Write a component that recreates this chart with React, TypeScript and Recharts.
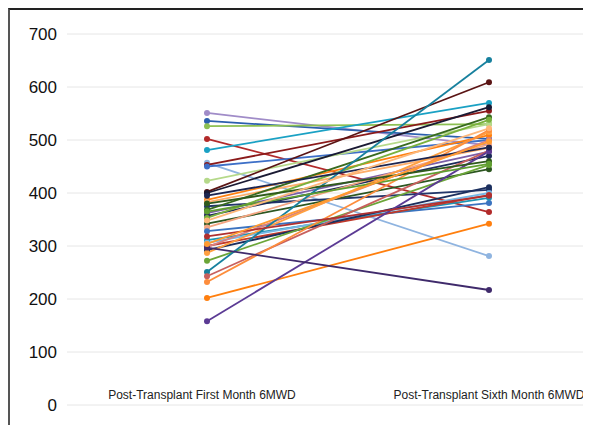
import { CartesianGrid, Line, LineChart, XAxis, YAxis } from "recharts";

const categories = [
  "Post-Transplant First Month 6MWD",
  "Post-Transplant Sixth Month 6MWD",
];

const firstMonth = [
  551, 536, 526, 502, 481, 457, 453, 450, 423, 402, 400, 387, 383, 375, 368,
  362, 357, 353, 342, 335, 328, 311, 306, 300, 298, 292, 287, 272, 251, 243,
  232, 202, 158, 297, 395, 380, 365, 318, 304, 348,
];

const sixthMonth = [
  490, 502, 530, 364, 570, 281, 555, 500, 530, 609, 562, 509, 485, 406, 543,
  478, 470, 538, 445, 492, 381, 391, 400, 396, 500, 411, 515, 453, 651, 480,
  519, 342, 479, 217, 486, 460, 455, 395, 497, 522,
];

const colors = [
  "#a08cc8", "#2b5fad", "#8dc052", "#b22a2a", "#1aa1c4", "#8fb4e0", "#8b1a1a",
  "#3d6fc7", "#b5d98a", "#5a1414", "#1a1a33", "#ff7f0e", "#fdae6b", "#23376b",
  "#386a1f", "#7b5ea7", "#1d2a5a", "#79b13d", "#2c5620", "#f4a582", "#3b73c0",
  "#1f95b3", "#76b7e5", "#c0392b", "#d98080", "#1b2f5e", "#ffa040", "#6ba538",
  "#17809e", "#c8605e", "#fd8d3c", "#ff7f0e", "#5b3a94", "#3f2a6b", "#1c2550",
  "#2f5a1c", "#5f9e30", "#b03030", "#ff9a30", "#fdb77a",
];

const yTicks = [0, 100, 200, 300, 400, 500, 600, 700];

const data = categories.map((name, i) => {
  const row: Record<string, string | number> = { name };
  const src = i === 0 ? firstMonth : sixthMonth;
  src.forEach((v, k) => {
    row[`s${k}`] = v;
  });
  return row;
});

function CategoryTick(props: any) {
  const { x, y, payload, index } = props;
  return (
    <text
      x={x}
      y={y}
      dx={index === 0 ? -5 : 0}
      dy={-14}
      textAnchor="middle"
      fontSize={12}
      fill="#222"
      fontFamily="'Liberation Sans', Arial, sans-serif"
    >
      {payload.value}
    </text>
  );
}

export default function App() {
  return (
    <div
      style={{
        width: 581,
        height: 415,
        borderLeft: "2px solid #555",
        borderTop: "2px solid #222",
        fontFamily: "'Liberation Sans', Arial, sans-serif",
      }}
    >
      <LineChart
        width={581}
        height={415}
        data={data}
        margin={{ top: 24, right: 7, bottom: 0, left: 0 }}
      >
        <CartesianGrid stroke="#e6e6e6" vertical={false} />
        <XAxis
          dataKey="name"
          axisLine={false}
          tickLine={false}
          height={20}
          padding={{ left: 140, right: 95 }}
          tick={<CategoryTick />}
          interval={0}
        />
        <YAxis
          domain={[0, 700]}
          ticks={yTicks}
          width={57}
          axisLine={false}
          tickLine={false}
          tickMargin={4}
          tick={{ fontSize: 17, fill: "#111" }}
        />
        {firstMonth.map((_, k) => (
          <Line
            key={k}
            dataKey={`s${k}`}
            stroke={colors[k]}
            strokeWidth={1.8}
            dot={{ r: 3, fill: colors[k], stroke: colors[k], strokeWidth: 0 }}
            isAnimationActive={false}
          />
        ))}
      </LineChart>
    </div>
  );
}
